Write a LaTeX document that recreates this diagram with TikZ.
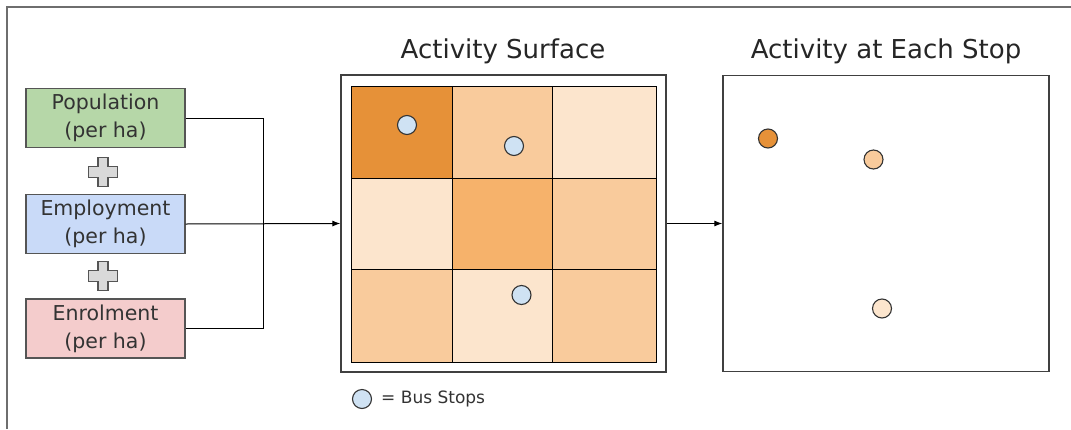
\documentclass[tikz,border=0pt]{standalone}
\usepackage{fontspec}
\setmainfont{DejaVu Sans}
\usetikzlibrary{arrows.meta}
\definecolor{popfill}{HTML}{B6D7A8}
\definecolor{empfill}{HTML}{C9DAF8}
\definecolor{enrfill}{HTML}{F4CCCC}
\definecolor{boxline}{HTML}{555555}
\definecolor{txt}{HTML}{333333}
\definecolor{cdark}{HTML}{E69138}
\definecolor{cmed}{HTML}{F6B26B}
\definecolor{clight}{HTML}{F9CB9C}
\definecolor{cvlight}{HTML}{FCE5CD}
\definecolor{stopblue}{HTML}{CFE2F3}
\definecolor{plusfill}{HTML}{D9D9D9}
\definecolor{plusline}{HTML}{555555}
\definecolor{framecol}{HTML}{6E6E6E}
\tikzset{
  inbox/.style={draw=boxline, line width=1.2pt, minimum width=159pt, minimum height=59pt,
    inner sep=0pt, align=center, text=txt, font=\fontsize{20.5}{28}\selectfont},
  title/.style={text=black!85, font=\fontsize{26}{30}\selectfont, inner sep=0pt},
  conn/.style={draw=black, line width=1pt},
  arr/.style={conn, -{Latex[length=8pt,width=6pt]}},
  stop/.style={circle, draw=black!80, line width=1.1pt, minimum size=19pt, inner sep=0pt},
  cellline/.style={draw=black, line width=1pt},
  panel/.style={draw=black!75, line width=1.3pt, inner sep=0pt},
}
\begin{document}
\begin{tikzpicture}[x=1pt,y=-1pt]
\useasboundingbox (0,0) rectangle (1071,429);
\fill[white] (0,0) rectangle (1071,429);
% frame
\draw[framecol, line width=1.5pt] (7,429) -- (7,7) -- (1071,7);

% input boxes
\node[inbox, fill=popfill] (pop) at (105.5,118) {Population\\(per ha)};
\node[inbox, fill=empfill] (emp) at (105.5,224) {Employment\\(per ha)};
\node[inbox, fill=enrfill] (enr) at (105.5,328.5) {Enrolment\\(per ha)};

% plus signs
\foreach \n/\cy in {plusA/172, plusB/276}{
  \coordinate (\n) at (103,\cy);
  \draw[fill=plusfill, draw=plusline, line width=1.1pt, shift={(103,\cy)}]
    (-5,-14.5) -- (5,-14.5) -- (5,-5.5) -- (14.5,-5.5) -- (14.5,5.5) -- (5,5.5)
    -- (5,14.5) -- (-5,14.5) -- (-5,5.5) -- (-14.5,5.5) -- (-14.5,-5.5) -- (-5,-5.5) -- cycle;
}

% activity surface panel
\node[panel, minimum width=325pt, minimum height=297pt] (surf) at (503.5,223.5) {};
\node[title] (surfT) at (503,51) {Activity Surface};

% grid cells
\def\xa{351}\def\xb{452}\def\xc{552}\def\xd{656}
\def\ya{86}\def\yb{178}\def\yc{269}\def\yd{362}
\fill[cdark]   (\xa,\ya) rectangle (\xb,\yb);
\fill[clight]  (\xb,\ya) rectangle (\xc,\yb);
\fill[cvlight] (\xc,\ya) rectangle (\xd,\yb);
\fill[cvlight] (\xa,\yb) rectangle (\xb,\yc);
\fill[cmed]    (\xb,\yb) rectangle (\xc,\yc);
\fill[clight]  (\xc,\yb) rectangle (\xd,\yc);
\fill[clight]  (\xa,\yc) rectangle (\xb,\yd);
\fill[cvlight] (\xb,\yc) rectangle (\xc,\yd);
\fill[clight]  (\xc,\yc) rectangle (\xd,\yd);
\draw[cellline] (\xa,\ya) rectangle (\xd,\yd);
\draw[cellline] (\xb,\ya) -- (\xb,\yd) (\xc,\ya) -- (\xc,\yd);
\draw[cellline] (\xa,\yb) -- (\xd,\yb) (\xa,\yc) -- (\xd,\yc);

% bus stops
\node[stop, fill=stopblue] (s1) at (407,125) {};
\node[stop, fill=stopblue] (s2) at (514,146) {};
\node[stop, fill=stopblue] (s3) at (521.5,295) {};

% legend
\node[stop, fill=stopblue] (leg) at (362,399) {};
\node[anchor=west, inner sep=0pt, text=txt, font=\fontsize{17}{20}\selectfont] (legT) at (381,399) {= Bus Stops};

% activity at each stop panel
\node[panel, minimum width=326pt, minimum height=296pt] (stops) at (886,223.5) {};
\node[title] (stopsT) at (886,51) {Activity at Each Stop};
\node[stop, fill=cdark] (a1) at (768,138.5) {};
\node[stop, fill=clight] (a2) at (873.5,159.5) {};
\node[stop, fill=cvlight] (a3) at (882,308.5) {};

% connectors
\coordinate (j) at (263.5,224);
\draw[conn] (pop.east) -| (j) |- (enr.east);
\draw[arr] (emp.east) -- (surf.west);
\draw[arr] (surf.east) -- (stops.west);
\end{tikzpicture}
\end{document}
